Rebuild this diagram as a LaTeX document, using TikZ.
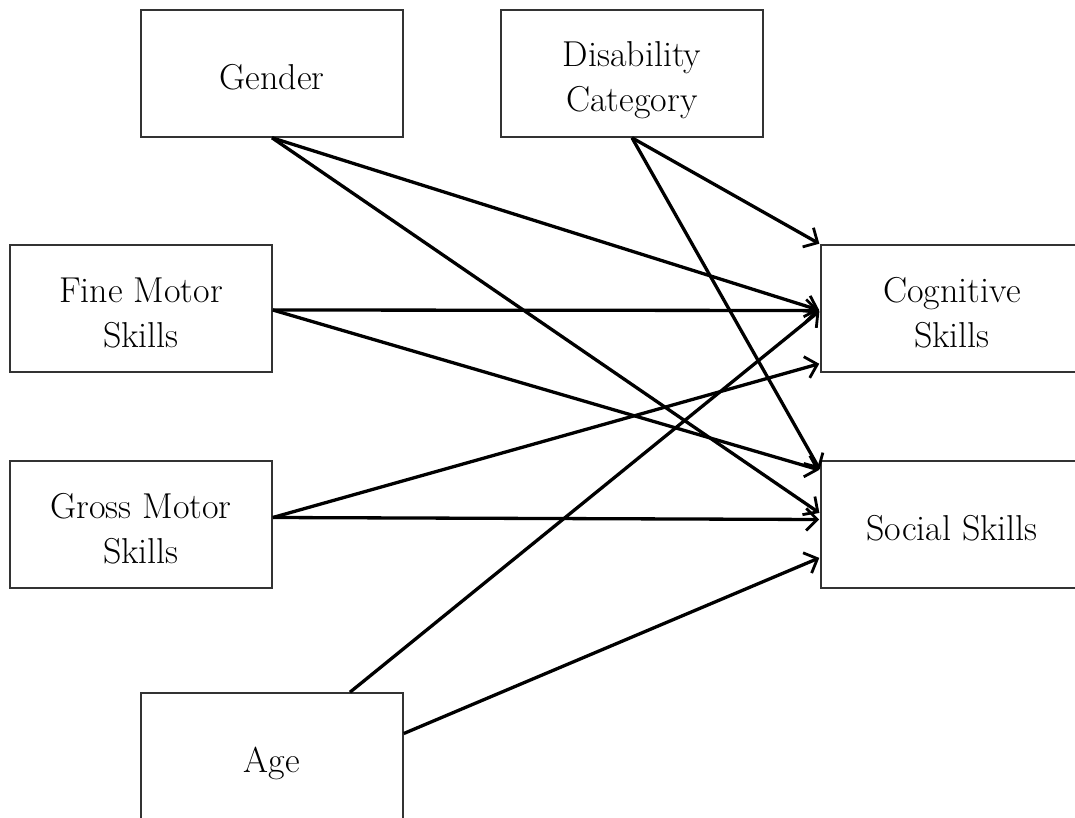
\documentclass[tikz,border=0pt]{standalone}
\usetikzlibrary{arrows.meta,calc}
\newcommand\boxtext[1]{\raisebox{-7pt}[\height][\depth]{\begin{tabular}{@{}c@{}}#1\end{tabular}}}
\begin{document}
\begin{tikzpicture}[x=1pt,y=-1pt,
  box/.style={draw=black!80,line width=1.6pt,minimum width=262pt,minimum height=127pt,inner sep=0pt,align=center,font=\fontsize{36}{45}\selectfont},
  link/.style={line width=3.3pt,-{Straight Barb[length=11pt,width=22pt,line width=2.8pt]},shorten >=1pt}]
\useasboundingbox (0,0) rectangle (1075,818);
\node[box] (gender) at (272,73.5) {\boxtext{Gender}};
\node[box] (dis) at (632,73.5) {\boxtext{Disability\\Category}};
\node[box] (fine) at (141,308.5) {\boxtext{Fine Motor\\Skills}};
\node[box] (gross) at (141,524.5) {\boxtext{Gross Motor\\Skills}};
\node[box] (age) at (272,756.5) {\boxtext{Age}};
\node[box] (cog) at (952,308.5) {\boxtext{Cognitive\\Skills}};
\node[box] (soc) at (952,524.5) {\boxtext{Social Skills}};
% attachment points
\coordinate (fineOut) at ($(fine.east)+(0,1.5)$);
\coordinate (grossOut) at ($(gross.east)+(0,-7)$);
\coordinate (ageTop) at ($(age.north)+(78,0)$);
\coordinate (ageRight) at ($(age.east)+(0,-23)$);
\coordinate (cogA) at (cog.north west);
\coordinate (cogB) at ($(cog.west)+(0,2)$);
\coordinate (cogC) at ($(cog.west)+(0,55)$);
\coordinate (socA) at ($(soc.north west)+(0,10)$);
\coordinate (socB) at ($(soc.west)+(0,-11)$);
\coordinate (socC) at ($(soc.west)+(0,-5)$);
\coordinate (socD) at ($(soc.west)+(0,33)$);
\draw[link] (gender.south) -- (cogB);
\draw[link] (gender.south) -- (socB);
\draw[link] (dis.south) -- (cogA);
\draw[link] (dis.south) -- (socA);
\draw[link] (fineOut) -- (cogB);
\draw[link] (fineOut) -- (socA);
\draw[link] (grossOut) -- (cogC);
\draw[link] (grossOut) -- (socC);
\draw[link] (ageTop) -- (cogB);
\draw[link] (ageRight) -- (socD);
\end{tikzpicture}
\end{document}
